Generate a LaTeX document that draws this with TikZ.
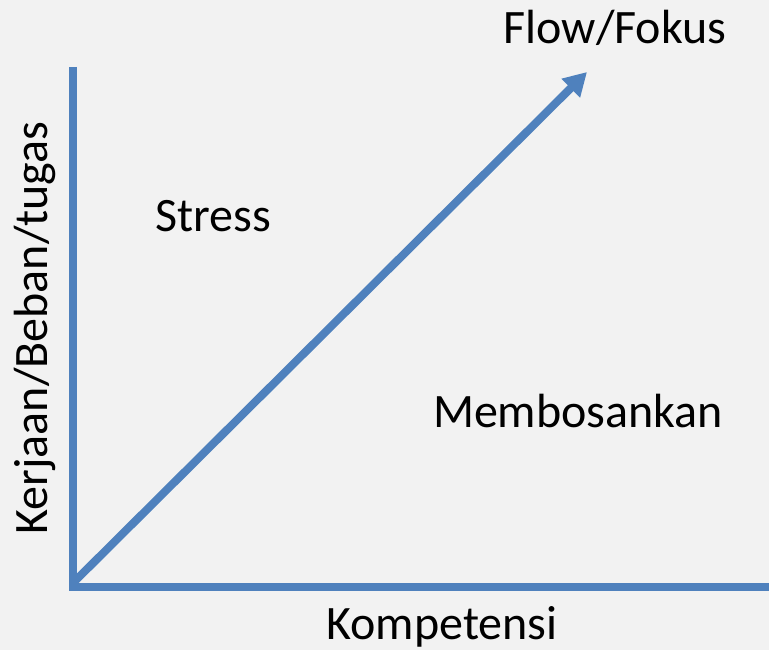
\documentclass[tikz,border=0pt]{standalone}
\usepackage{fontspec}
\setmainfont{Carlito}
\usetikzlibrary{arrows.meta}
\definecolor{axisblue}{HTML}{4F81BD}
\definecolor{bggray}{HTML}{F2F2F2}
\tikzset{
  axisline/.style={draw=axisblue, line width=8pt, line cap=butt},
  lbl/.style={font=\fontsize{48}{58}\selectfont, text=black, inner sep=0pt, anchor=center}
}
\begin{document}
\begin{tikzpicture}[x=1pt,y=-1pt]
  % background and bounding box
  \fill[bggray] (0,0) rectangle (769,650);
  \useasboundingbox (0,0) rectangle (769,650);

  % axes
  \coordinate (origin) at (73,586);
  \coordinate (ytop) at (73,67);
  \coordinate (xend) at (769,586);
  \coordinate (tip) at (587,72);
  \draw[axisline] (ytop) -- (73,590);
  \draw[axisline] (69,586.5) -- (xend |- 0,586.5);
  \draw[axisline, -{Triangle[length=23pt,width=25pt]}] (73,583) -- (tip);

  % labels
  \node[lbl] (flow) at (615,28) {Flow/Fokus};
  \node[lbl] (stress) at (213,216) {Stress};
  \node[lbl] (bosan) at (578,411) {Membosankan};
  \node[lbl] (komp) at (442,627) {Kompetensi};
  \node[lbl, rotate=90] (kerja) at (35,328) {Kerjaan/Beban/tugas};
\end{tikzpicture}
\end{document}
